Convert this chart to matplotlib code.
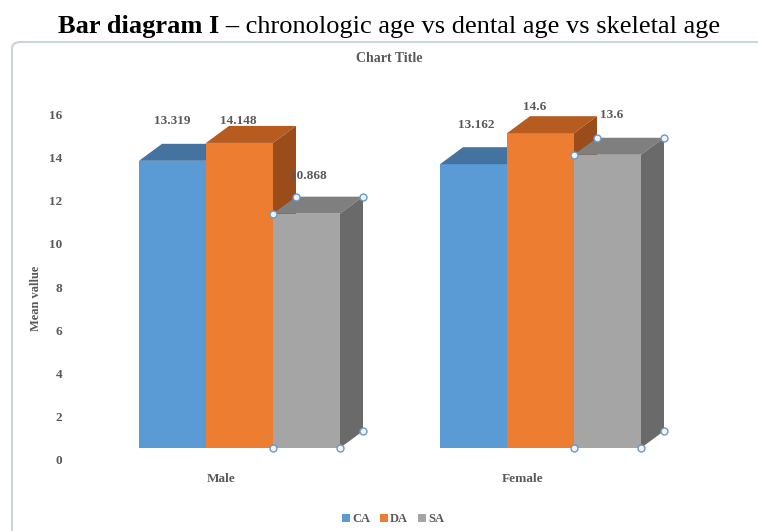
import matplotlib
matplotlib.use("Agg")
import matplotlib.pyplot as plt
import numpy as np
from matplotlib.patches import Polygon, FancyBboxPatch, Patch

# chart data
groups = ["Male", "Female"]
series = ["CA", "DA", "SA"]
values = {
    "CA": [13.319, 13.162],
    "DA": [14.148, 14.6],
    "SA": [10.868, 13.6],
}
yticks = [0, 2, 4, 6, 8, 10, 12, 14, 16]

# colours: front, top, side
colors = {
    "CA": ("#5B9BD5", "#45739F", "#3A6289"),
    "DA": ("#ED7D31", "#B65C21", "#9A4C1A"),
    "SA": ("#A5A5A5", "#7F7F7F", "#6A6A6A"),
}
# label offsets (pixels) for each value label, per group
label_offsets = {
    "CA": [(0, 40), (3, 39)],
    "DA": [(-1, 22), (-6, 26)],
    "SA": [(2, 38), (4, 40)],
}

W, H = 758, 531
txt_col = "#595959"
serif = ["Liberation Serif", "DejaVu Serif"]
plt.rcParams["font.family"] = serif

fig = plt.figure(figsize=(W / 100, H / 100), dpi=100)

# chart frame with rounded corner
frame = FancyBboxPatch((12 / W, -0.05), 1.0, 1 - 42 / H + 0.05,
                       boxstyle="round,pad=0,rounding_size=0.012",
                       transform=fig.transFigure, facecolor="white",
                       edgecolor="#C8D5DB", linewidth=1.5, zorder=-1)
fig.patches.append(frame)

# heading: bold part + normal part, centred as one line
r = fig.canvas.get_renderer()
t1 = fig.text(0, 1 - 27 / H, "Bar diagram I \u2013", fontsize=19, fontweight="bold",
              va="center", ha="left", color="black")
t2 = fig.text(0, 1 - 27 / H, " chronologic age vs dental age vs skeletal age",
              fontsize=19, va="center", ha="left", color="black")
w1 = t1.get_window_extent(r).width
w2 = t2.get_window_extent(r).width
x0 = (389 - (w1 + w2) / 2) / W
t1.set_x(x0)
t2.set_x(x0 + w1 / W)

fig.text(389 / W, 1 - 58 / H, "Chart Title", fontsize=10, fontweight="bold",
         color=txt_col, ha="center", va="center")

ax = fig.add_axes([70 / W, 1 - 461 / H, 650 / W, 345 / H])
ax.set_xlim((70 - 239.5) / 301, (720 - 239.5) / 301)
ax.set_ylim(0, 16)
ax.axis("off")

ppu = 345 / 16          # pixels per unit on the value axis
floor = 13 / ppu        # front faces stand a little above the zero line
dx, dy = 23 / 301, 17 / ppu
bw = 67 / 301

for t in yticks:
    ax.text((62 - 239.5) / 301, t, str(t), ha="right", va="center",
            fontsize=9.5, fontweight="bold", color=txt_col, clip_on=False)

ax.text((36 - 239.5) / 301, (461 - 298) / ppu, "Mean vallue", rotation=90,
        ha="center", va="center", fontsize=9, fontweight="bold", color=txt_col)

z = 2
for gi, g in enumerate(groups):
    for si, s in enumerate(series):
        v = values[s][gi]
        front, top, side = colors[s]
        xc = gi + (si - 1) * bw
        xl, xr = xc - bw / 2, xc + bw / 2
        b, t = floor, floor + v
        ax.bar(xc, v, bottom=b, width=bw, color=front, linewidth=0, zorder=z)
        ax.add_patch(Polygon([(xl, t), (xr, t), (xr + dx, t + dy), (xl + dx, t + dy)],
                             closed=True, facecolor=top, edgecolor="none", zorder=z))
        ax.add_patch(Polygon([(xr, b), (xr + dx, b + dy), (xr + dx, t + dy), (xr, t)],
                             closed=True, facecolor=side, edgecolor="none", zorder=z))
        ox, oy = label_offsets[s][gi]
        ax.annotate(f"{v:g}", (xc, t), xytext=(ox, oy), textcoords="offset pixels",
                    ha="center", va="center", fontsize=9.5, fontweight="bold",
                    color=txt_col, zorder=20)
        if s == "SA":
            hx = [xl, xl + dx, xr + dx, xl, xr, xr + dx]
            hy = [t, t + dy, t + dy, b, b, b + dy]
            ax.plot(hx, hy, "o", ms=5, mfc="#EEF4F9", mec="#6C9AC2", mew=1,
                    zorder=30, clip_on=False)
        z += 1
    ax.annotate(g, (gi, 0), xytext=(-18, -18), textcoords="offset pixels",
                ha="center", va="center", fontsize=9.5, fontweight="bold",
                color=txt_col, annotation_clip=False)

handles = [Patch(facecolor=colors[s][0], edgecolor="none") for s in series]
leg = fig.legend(handles, series, loc="center", bbox_to_anchor=(393 / W, 1 - 519 / H),
                 ncol=3, frameon=False, handlelength=0.6, handleheight=0.6,
                 handletextpad=0.2, columnspacing=0.8,
                 prop={"family": serif, "weight": "bold", "size": 9})
for text in leg.get_texts():
    text.set_color(txt_col)

fig.savefig("out.png", dpi=100)
